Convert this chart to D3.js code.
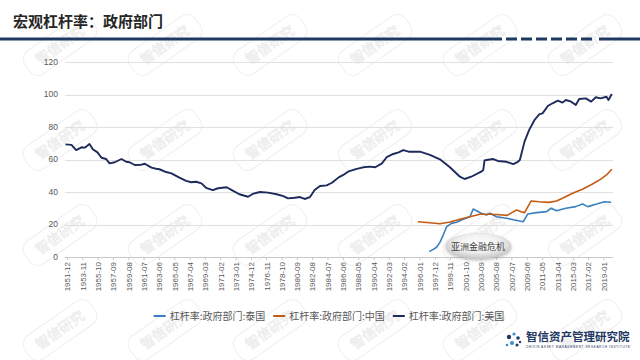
<!DOCTYPE html>
<html><head><meta charset="utf-8">
<script src="https://cdn.jsdelivr.net/npm/d3@7/dist/d3.min.js"></script>
<style>body{margin:0;background:#fff}svg{display:block}</style>
</head><body><svg id="c" width="640" height="360"></svg>
<script>
// ---------- data ----------
const title = "宏观杠杆率：政府部门";
const seriesNames = ["杠杆率:政府部门:泰国", "杠杆率:政府部门:中国", "杠杆率:政府部门:美国"];
const yTicks = [0, 20, 40, 60, 80, 100, 120];
const tickLabels = ["1951-12","1953-11","1955-10","1957-09","1959-08","1961-07","1963-06","1965-05","1967-04","1969-03","1971-02","1973-01","1974-12","1976-11","1978-10","1980-09","1982-08","1984-07","1986-06","1988-05","1990-04","1992-03","1994-02","1996-01","1997-12","1999-11","2001-10","2003-09","2005-08","2007-07","2009-06","2011-05","2013-04","2015-03","2017-02","2019-01"];

const usDates = ["1951-12","1952-09","1953-04","1953-12","1954-05","1954-12","1955-05","1955-12","1956-06","1957-01","1957-06","1958-02","1958-12","1959-07","1959-12","1960-08","1961-06","1961-11","1962-09","1963-04","1963-09","1964-07","1965-03","1966-03","1967-01","1967-09","1968-04","1968-12","1969-07","1970-05","1971-01","1972-02","1972-11","1973-09","1974-10","1975-05","1976-04","1977-04","1978-05","1979-03","1979-10","1980-08","1981-04","1981-11","1982-07","1983-02","1983-10","1984-08","1985-04","1986-02","1986-09","1987-04","1988-05","1989-03","1990-01","1990-09","1991-07","1992-02","1992-12","1993-08","1994-03","1994-11","1995-11","1996-04","1997-07","1998-10","2000-01","2001-04","2001-11","2002-09","2003-12","2004-03","2004-05","2004-08","2005-06","2006-01","2007-02","2007-12","2008-07","2008-10","2009-05","2009-12","2010-08","2011-03","2011-08","2012-04","2012-11","2013-07","2014-02","2014-07","2015-03","2015-10","2016-03","2017-01","2017-09","2018-04","2018-11","2019-08","2019-11","2020-04"];
const usValues = [69.3,69.0,65.8,67.5,67.3,69.5,66.3,64.4,61.1,60.3,57.6,58.3,60.3,58.6,58.3,56.6,56.8,57.4,55.0,54.3,54.0,52.3,51.5,48.8,46.8,46.0,46.3,45.3,42.6,41.2,42.3,42.9,40.8,38.6,37.1,38.8,40.0,39.6,38.6,37.5,36.1,36.5,36.9,35.7,36.9,41.2,43.7,44.1,45.7,49.0,50.5,52.5,54.2,55.2,55.6,55.2,57.6,61.4,63.4,64.4,65.8,64.8,64.8,64.8,62.8,60.1,55.2,49.4,48.0,49.4,52.5,53.5,59.5,59.7,60.3,59.1,58.6,57.2,58.6,59.7,71.0,78.2,84.3,87.8,88.4,92.9,94.6,96.2,95.0,96.6,95.6,93.5,97.2,97.6,95.6,98.3,97.6,98.6,96.6,100.3];

const cnDates = ["1996-01","1997-07","1998-10","2000-01","2001-04","2002-07","2003-10","2005-01","2006-04","2007-03","2007-10","2008-05","2008-12","2009-05","2010-03","2011-03","2012-06","2013-05","2014-02","2015-05","2016-08","2017-11","2018-11","2019-08","2020-04"];
const cnValues = [21.7,21.1,20.5,21.5,23.2,24.8,26.3,26.3,26.0,25.6,27.3,28.9,27.9,27.3,34.5,34.0,33.6,34.5,36.1,39.2,41.7,44.9,47.8,50.5,54.0];

const thDates = ["1997-06","1997-12","1998-05","1998-10","1999-03","1999-08","2000-03","2000-11","2001-09","2002-07","2002-12","2003-05","2003-12","2004-08","2005-01","2005-11","2007-02","2008-02","2009-03","2009-10","2010-11","2012-02","2012-09","2013-05","2014-07","2015-10","2016-08","2017-04","2018-04","2019-05","2020-03"];
const thValues = [3.3,4.7,6.0,9.0,13.5,18.6,20.7,21.4,23.2,24.8,29.5,28.5,26.9,25.8,26.9,24.8,23.8,22.8,21.7,26.5,27.3,27.9,30.0,28.5,30.0,31.0,32.6,31.0,32.4,34.0,33.7];

const annotation = "亚洲金融危机";
const colors = ["#3a7fc0", "#c55a11", "#1f2a5c"];

// ---------- chart ----------
const svg = d3.select("#c");
const mi = s => { const [y, m] = s.split("-").map(Number); return (y - 1951) * 12 + (m - 12); };

// watermarks (kept fully inside the canvas)
const wm = svg.append("g");
for (let i = 0; i < 6; i++) {
  for (let j = 0; j < 4; j++) {
    const cx = 60 + 105 * i, cy = 45 + 95 * j;
    if (cy > 330) continue;
    const g = wm.append("g").attr("transform", `translate(${cx},${cy}) rotate(-35)`);
    g.append("rect").attr("x", -40).attr("y", -14).attr("width", 80).attr("height", 28).attr("rx", 10)
      .attr("fill", "none").attr("stroke", "#efefef").attr("stroke-width", 1);
    g.append("text").attr("text-anchor", "middle").attr("dy", "0.35em")
      .attr("font-family", "Noto Sans CJK SC").attr("font-size", 14)
      .attr("fill", "none").attr("stroke", "#ececec").attr("stroke-width", 0.7).text("智信研究");
  }
}

// title
svg.append("text").attr("x", 13).attr("y", 27).attr("font-family", "Noto Sans CJK SC")
  .attr("font-size", 15).attr("font-weight", "bold").attr("fill", "#262626").text(title);
const barY = 39;
svg.append("line").attr("x1", 0).attr("x2", 502).attr("y1", barY).attr("y2", barY).attr("stroke", "#1f3864").attr("stroke-width", 3);
svg.append("line").attr("x1", 506).attr("x2", 596).attr("y1", barY).attr("y2", barY).attr("stroke", "#1f3864").attr("stroke-width", 3).attr("stroke-dasharray", "11,4");
svg.append("line").attr("x1", 599).attr("x2", 640).attr("y1", barY).attr("y2", barY).attr("stroke", "#1f3864").attr("stroke-width", 3);

const x = d3.scaleLinear().domain([-0.75, 821.8]).range([65, 613]);
const y = d3.scaleLinear().domain([0, 120]).range([257, 62]);

// grid
svg.append("g").selectAll("line").data(yTicks).join("line")
  .attr("x1", 65).attr("x2", 613).attr("y1", d => Math.round(y(d)) + 0.5).attr("y2", d => Math.round(y(d)) + 0.5)
  .attr("stroke", d => d === 0 ? "#c8c8c8" : "#e0e0e0").attr("stroke-width", 1);

// y labels
svg.append("g").selectAll("text").data(yTicks).join("text")
  .attr("x", 58).attr("y", d => y(d)).attr("dy", "0.35em").attr("text-anchor", "end")
  .attr("font-family", "Liberation Sans").attr("font-size", 8.5).attr("fill", "#595959").text(d => d);

// x labels
svg.append("g").selectAll("text").data(tickLabels).join("text")
  .attr("transform", d => `translate(${x(mi(d)) + 2},262) rotate(-90)`)
  .attr("dy", "0.35em").attr("text-anchor", "end")
  .attr("font-family", "Liberation Sans").attr("font-size", 8).attr("fill", "#595959").text(d => d);
svg.append("g").selectAll("line").data(tickLabels).join("line")
  .attr("x1", d => x(mi(d)) + 2).attr("x2", d => x(mi(d)) + 2).attr("y1", 257).attr("y2", 260)
  .attr("stroke", "#c8c8c8");

// lines
const series = [
  { dates: thDates, values: thValues },
  { dates: cnDates, values: cnValues },
  { dates: usDates, values: usValues }
];
const line = d3.line().x(d => x(d[0])).y(d => y(d[1])).curve(d3.curveLinear);
series.forEach((s, i) => {
  const pts = s.dates.map((d, k) => [mi(d), s.values[k]]);
  svg.append("path").attr("d", line(pts)).attr("fill", "none")
    .attr("stroke", colors[i]).attr("stroke-width", i === 2 ? 1.9 : 1.6).attr("stroke-linejoin", "round");
});

// annotation ellipse
const defs = svg.append("defs");
const rg = defs.append("radialGradient").attr("id", "eg").attr("cx", "50%").attr("cy", "40%").attr("r", "60%");
rg.append("stop").attr("offset", "0%").attr("stop-color", "#ffffff");
rg.append("stop").attr("offset", "55%").attr("stop-color", "#f0f0f0");
rg.append("stop").attr("offset", "100%").attr("stop-color", "#c4c4c4");
const flt = defs.append("filter").attr("id", "sh").attr("x", "-30%").attr("y", "-30%").attr("width", "160%").attr("height", "160%");
flt.append("feDropShadow").attr("dx", 0).attr("dy", 1.5).attr("stdDeviation", 1.5).attr("flood-color", "#888").attr("flood-opacity", 0.5);
svg.append("ellipse").attr("cx", 478.5).attr("cy", 246).attr("rx", 33).attr("ry", 13)
  .attr("fill", "url(#eg)").attr("filter", "url(#sh)");
svg.append("text").attr("x", 478).attr("y", 246.5).attr("dy", "0.35em").attr("text-anchor", "middle")
  .attr("font-family", "Noto Sans CJK SC").attr("font-size", 9).attr("fill", "#404040").text(annotation);

// legend
const lg = svg.append("g");
let lx = 0;
seriesNames.forEach((n, i) => {
  const g = lg.append("g");
  g.append("line").attr("x1", lx).attr("x2", lx + 12).attr("y1", 316).attr("y2", 316).attr("stroke", colors[i]).attr("stroke-width", 2);
  const t = g.append("text").attr("x", lx + 16).attr("y", 316).attr("dy", "0.35em")
    .attr("font-family", "Noto Sans CJK SC").attr("font-size", 10).attr("fill", "#595959").text(n);
  lx += 16 + t.node().getComputedTextLength() + 8;
});
const total = lx - 8;
lg.attr("transform", `translate(${329 - total / 2},0)`);

// logo
const logo = svg.append("g");
const dots = [[509,337,2.2],[514,334,1.6],[518,338,1.8],[512,343,2.0],[517,345,1.5],[507,345,1.3],[520,342,1.2]];
logo.selectAll("circle").data(dots).join("circle").attr("cx", d => d[0]).attr("cy", d => d[1]).attr("r", d => d[2])
  .attr("fill", (d, i) => i % 2 ? "#3a8fd0" : "#1f3864");
logo.append("text").attr("x", 526).attr("y", 341).attr("font-family", "Noto Sans CJK SC").attr("font-size", 11.5)
  .attr("font-weight", "bold").attr("fill", "#1f3864").text("智信资产管理研究院");
logo.append("text").attr("x", 526).attr("y", 348).attr("font-family", "Liberation Sans").attr("font-size", 3.2)
  .attr("fill", "#1f3864").attr("textLength", 104).text("ZHIXIN ASSET MANAGEMENT RESEARCH INSTITUTE");
</script></body></html>
